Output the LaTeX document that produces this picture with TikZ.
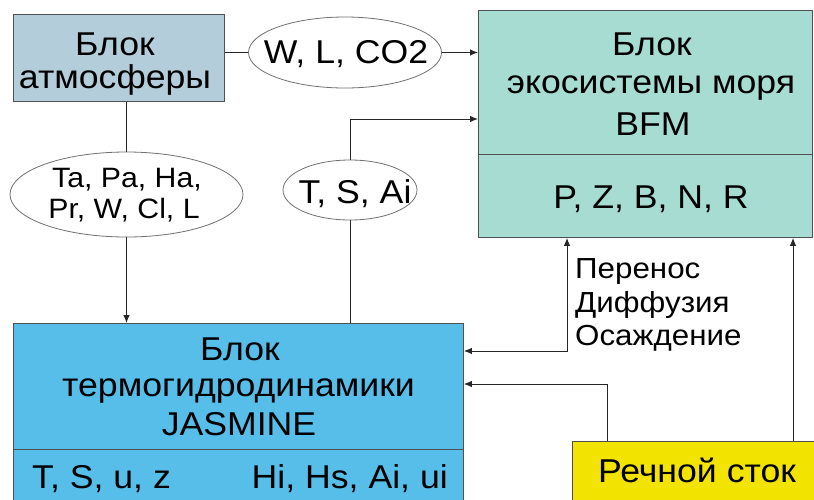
\documentclass[tikz,border=0pt]{standalone}
\usepackage{fontspec}
\setmainfont{Liberation Sans}[FakeStretch=1.08]
\usetikzlibrary{arrows.meta,shapes.geometric}

\definecolor{atmfill}{HTML}{B3CEDA}
\definecolor{ecofill}{HTML}{A7DCD2}
\definecolor{jasfill}{HTML}{56BEE9}
\definecolor{rivfill}{HTML}{F2E400}
\definecolor{edge}{HTML}{505050}
\definecolor{ovaledge}{HTML}{707070}

\tikzset{
  blockbox/.style={draw=edge, line width=0.9pt, inner sep=0pt, anchor=north west},
  oval/.style={ellipse, draw=ovaledge, line width=0.8pt, fill=white, inner sep=0pt},
  lbl/.style={anchor=base, inner sep=0pt, text=black},
  big/.style={font=\fontsize{33}{38}\selectfont},
  mid/.style={font=\fontsize{28}{34}\selectfont},
  side/.style={font=\fontsize{29}{34}\selectfont},
  link/.style={draw=black!85, line width=1pt},
  flow/.style={link, -{Latex[length=8pt,width=6.5pt]}},
  flow2/.style={link, {Latex[length=8pt,width=6.5pt]}-{Latex[length=8pt,width=6.5pt]}}
}

\begin{document}
\begin{tikzpicture}[x=1pt,y=-1pt]
\clip (0,0) rectangle (814,499);
\fill[white] (0,0) rectangle (814,499);

% blocks
\node[blockbox, fill=atmfill, minimum width=211pt, minimum height=87pt] (atm) at (13,14) {};
\node[blockbox, fill=ecofill, minimum width=334pt, minimum height=227pt] (eco) at (478,10) {};
\node[blockbox, fill=jasfill, minimum width=450pt, minimum height=200pt] (jas) at (13,323) {};
\node[blockbox, fill=rivfill, minimum width=260pt, minimum height=80pt] (riv) at (572,441) {};

% dividers inside the two model blocks
\draw[draw=edge, line width=0.9pt] (eco.west |- 0,154) -- (eco.east |- 0,154);
\draw[draw=edge, line width=0.9pt] (jas.west |- 0,449) -- (jas.east |- 0,449);

% ovals with exchanged variables
\node[oval, minimum width=193pt, minimum height=71pt] (wlc) at (345,52.5) {};
\node[oval, minimum width=233pt, minimum height=85pt] (ta) at (126.5,194.5) {};
\node[oval, minimum width=134pt, minimum height=60pt] (tsa) at (350,190) {};

% connector helper points
\coordinate (ecoin) at (478,119);
\coordinate (trn) at (567,0);
\coordinate (trnj) at (0,351);
\coordinate (rivj) at (0,384);
\coordinate (rivl) at (607,0);
\coordinate (rivr) at (793,0);

% connectors
\draw[link] (atm.east |- wlc.west) -- (wlc.west);
\draw[flow] (wlc.east) -- (eco.west |- wlc.east);
\draw[link] (ta.north) -- (ta.north |- atm.south);
\draw[flow] (ta.south) -- (ta.south |- jas.north);
\draw[link] (tsa.south |- jas.north) -- (tsa.south);
\draw[flow] (tsa.north) |- (ecoin);
\draw[flow2] (trn |- eco.south) |- (jas.east |- trnj);
\draw[flow] (rivl |- riv.north) |- (jas.east |- rivj);
\draw[flow] (rivr |- riv.north) -- (rivr |- eco.south);

% texts
\node[lbl, big] (atm1) at (115,55) {Блок};
\node[lbl, big] (atm2) at (115,88) {атмосферы};

\node[lbl, big] (eco1) at (652,55) {Блок};
\node[lbl, big] (eco2) at (651,93) {экосистемы моря};
\node[lbl, big] (eco3) at (653,135) {BFM};
\node[lbl, big] (eco4) at (651,208) {P, Z, B, N, R};

\node[lbl, big] (wlct) at (346,63) {W, L, CO2};
\node[lbl, big] (tsat) at (355,203) {T, S, Ai};
\node[lbl, mid] (ta1) at (127,187) {Ta, Pa, Ha,};
\node[lbl, mid] (ta2) at (124,218) {Pr, W, Cl, L};

\node[lbl, big] (jas1) at (240,360) {Блок};
\node[lbl, big] (jas2) at (238.5,396) {термогидродинамики};
\node[lbl, big] (jas3) at (239,435) {JASMINE};
\node[lbl, big, anchor=base west] (jas4) at (32,488) {T, S, u, z};
\node[lbl, big, anchor=base east] (jas5) at (448,488) {Hi, Hs, Ai, ui};

\node[lbl, side, anchor=base west] (tr1) at (575,278) {Перенос};
\node[lbl, side, anchor=base west] (tr2) at (575,312) {Диффузия};
\node[lbl, side, anchor=base west] (tr3) at (575,345) {Осаждение};

\node[lbl, big] (rivt) at (697,482) {Речной сток};
\end{tikzpicture}
\end{document}
